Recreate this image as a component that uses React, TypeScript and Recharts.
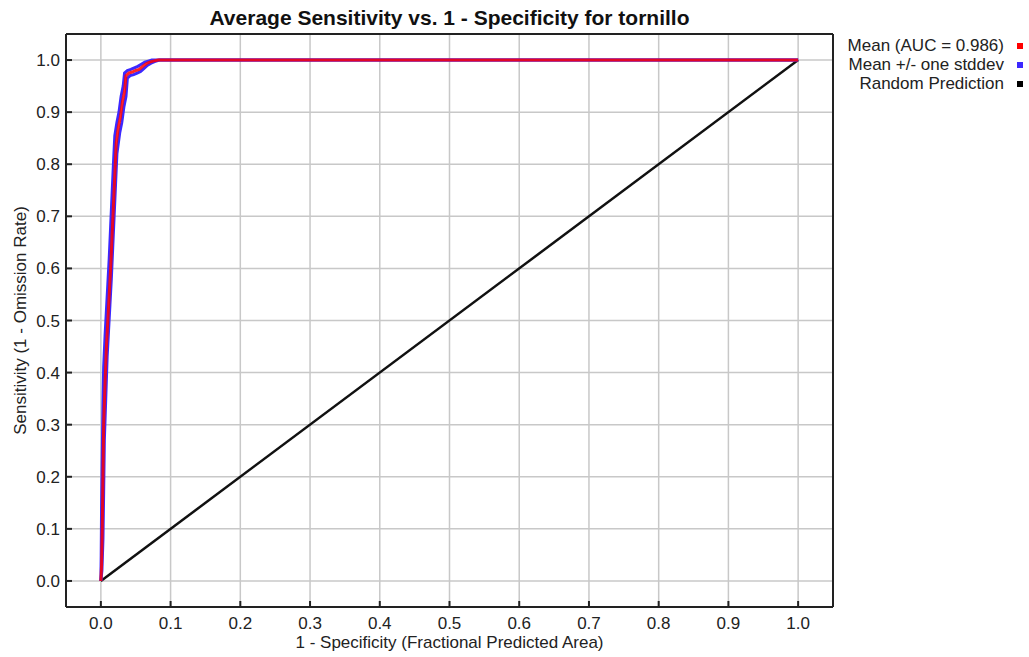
import React from 'react'
import { LineChart, Line, XAxis, YAxis, CartesianGrid, Label } from 'recharts'

const W = 1029
const H = 657
const FONT = '"Liberation Sans", Arial, Helvetica, sans-serif'
const INK = '#222'

// axis ticks (fraction of area / sensitivity)
const xTicks = [0, 0.1, 0.2, 0.3, 0.4, 0.5, 0.6, 0.7, 0.8, 0.9, 1.0]
const yTicks = [0, 0.1, 0.2, 0.3, 0.4, 0.5, 0.6, 0.7, 0.8, 0.9, 1.0]

// mean ROC curve
const meanFpr = [0, 0.001, 0.002, 0.003, 0.004, 0.006, 0.008, 0.010, 0.012, 0.014, 0.016, 0.018, 0.020, 0.022, 0.025, 0.028, 0.031, 0.034, 0.036, 0.040, 0.045, 0.050, 0.055, 0.060, 0.065, 0.070, 0.075, 0.082, 1]
const meanTpr = [0, 0.03, 0.10, 0.20, 0.30, 0.38, 0.45, 0.50, 0.55, 0.60, 0.66, 0.72, 0.78, 0.84, 0.87, 0.89, 0.92, 0.94, 0.97, 0.975, 0.977, 0.98, 0.982, 0.988, 0.993, 0.996, 0.998, 1.0, 1.0]

// mean + one stddev
const upperFpr = [0, 0.0005, 0.001, 0.002, 0.003, 0.004, 0.006, 0.008, 0.010, 0.012, 0.014, 0.016, 0.018, 0.020, 0.023, 0.026, 0.029, 0.032, 0.034, 0.038, 0.043, 0.048, 0.053, 0.058, 0.063, 0.068, 0.073, 0.080, 1]
const upperTpr = [0, 0.05, 0.14, 0.24, 0.34, 0.41, 0.47, 0.52, 0.57, 0.62, 0.68, 0.74, 0.80, 0.855, 0.88, 0.90, 0.93, 0.95, 0.975, 0.98, 0.982, 0.985, 0.988, 0.992, 0.996, 0.998, 1.0, 1.0, 1.0]

// mean - one stddev
const lowerFpr = [0, 0.0015, 0.003, 0.004, 0.005, 0.007, 0.009, 0.011, 0.013, 0.015, 0.017, 0.019, 0.021, 0.023, 0.027, 0.030, 0.033, 0.036, 0.038, 0.042, 0.047, 0.052, 0.057, 0.062, 0.067, 0.072, 0.077, 0.084, 1]
const lowerTpr = [0, 0.02, 0.08, 0.17, 0.27, 0.35, 0.43, 0.48, 0.53, 0.58, 0.64, 0.70, 0.76, 0.82, 0.86, 0.88, 0.91, 0.93, 0.965, 0.97, 0.972, 0.975, 0.978, 0.984, 0.99, 0.994, 0.997, 1.0, 1.0]

// random prediction diagonal
const randomFpr = [0, 1]
const randomTpr = [0, 1]

const legendLabels = ['Mean (AUC = 0.986)', 'Mean +/- one stddev', 'Random Prediction']
const legendColors = ['#ff0000', '#3c28ff', '#000000']

const toPoints = (xs: number[], ys: number[]) => xs.map((x, i) => ({ x, y: ys[i] }))

const X_MARGIN = 10
const Y_MARGIN = 6

const BottomTick = (props: any) => {
  const { x, y, payload } = props
  const axisY = y - X_MARGIN
  return (
    <g>
      <line x1={x} x2={x} y1={axisY} y2={axisY - 6} stroke={INK} strokeWidth={2} />
      <text x={x} y={y} dy="0.71em" textAnchor="middle" fontSize={17} fill={INK}>
        {Number(payload.value).toFixed(1)}
      </text>
    </g>
  )
}

const LeftTick = (props: any) => {
  const { x, y, payload } = props
  const axisX = x + Y_MARGIN
  return (
    <g>
      <line x1={axisX} x2={axisX + 6} y1={y} y2={y} stroke={INK} strokeWidth={2} />
      <text x={x} y={y} dy="0.355em" textAnchor="end" fontSize={17} fill={INK}>
        {Number(payload.value).toFixed(1)}
      </text>
    </g>
  )
}

export default function App() {
  const axisLine = { stroke: INK, strokeWidth: 2 }
  const tickLine = { stroke: INK, strokeWidth: 2 }

  return (
    <div style={{ position: 'absolute', left: 0, top: 0, width: W, height: H, background: '#fff', fontFamily: FONT }}>
      <LineChart width={W} height={H} margin={{ top: 34, right: 196, bottom: 0, left: 0 }}>
        <CartesianGrid stroke="#c8c8c8" strokeWidth={1.5} />
        <XAxis
          type="number" dataKey="x" domain={[-0.05, 1.05]} allowDataOverflow
          ticks={xTicks} interval={0} height={50}
          tickSize={0} tickMargin={X_MARGIN} tickLine={false} axisLine={axisLine}
          tick={<BottomTick />}
        >
          <Label value="1 - Specificity (Fractional Predicted Area)" position="insideBottom" offset={9} fontSize={17} fill={INK} />
        </XAxis>
        <XAxis
          xAxisId="top" orientation="top" mirror type="number" domain={[-0.05, 1.05]} allowDataOverflow
          ticks={xTicks} interval={0} tick={false} tickSize={6} tickLine={tickLine} axisLine={axisLine}
        />
        <YAxis
          type="number" domain={[-0.05, 1.05]} allowDataOverflow
          ticks={yTicks} interval={0} width={66}
          tickSize={0} tickMargin={Y_MARGIN} tickLine={false} axisLine={axisLine}
          tick={<LeftTick />}
        >
          <Label
            value="Sensitivity (1 - Omission Rate)" angle={-90} position="insideLeft" offset={19.5}
            fontSize={17} fill={INK} style={{ textAnchor: 'middle' }}
          />
        </YAxis>
        <YAxis
          yAxisId="right" orientation="right" mirror type="number" domain={[-0.05, 1.05]} allowDataOverflow
          ticks={yTicks} interval={0} width={40} tick={false} tickSize={6} tickLine={tickLine} axisLine={axisLine}
        />
        <Line data={toPoints(randomFpr, randomTpr)} dataKey="y" type="linear" stroke="#111" strokeWidth={2.5}
          dot={false} activeDot={false} isAnimationActive={false} />
        <Line data={toPoints(upperFpr, upperTpr)} dataKey="y" type="linear" stroke="#3c28ff" strokeWidth={3}
          dot={false} activeDot={false} isAnimationActive={false} />
        <Line data={toPoints(lowerFpr, lowerTpr)} dataKey="y" type="linear" stroke="#3c28ff" strokeWidth={3}
          dot={false} activeDot={false} isAnimationActive={false} />
        <Line data={toPoints(meanFpr, meanTpr)} dataKey="y" type="linear" stroke="#ff0000" strokeOpacity={0.85}
          strokeWidth={3} dot={false} activeDot={false} isAnimationActive={false} />
      </LineChart>

      {/* title */}
      <div style={{
        position: 'absolute', left: 66, top: 7, width: 767, textAlign: 'center',
        fontSize: 21, lineHeight: '21px', fontWeight: 'bold', color: '#111',
      }}>
        Average Sensitivity vs. 1 - Specificity for tornillo
      </div>

      {/* legend, right of the plot */}
      <div style={{ position: 'absolute', top: 36, right: 6, fontSize: 17, lineHeight: '19px', color: INK }}>
        {legendLabels.map((label, i) => (
          <div key={label} style={{ display: 'flex', justifyContent: 'flex-end', alignItems: 'center', height: 19 }}>
            <span style={{ whiteSpace: 'nowrap' }}>{label}</span>
            <span style={{ display: 'inline-block', width: 6, height: 6, marginLeft: 13, background: legendColors[i] }} />
          </div>
        ))}
      </div>
    </div>
  )
}
